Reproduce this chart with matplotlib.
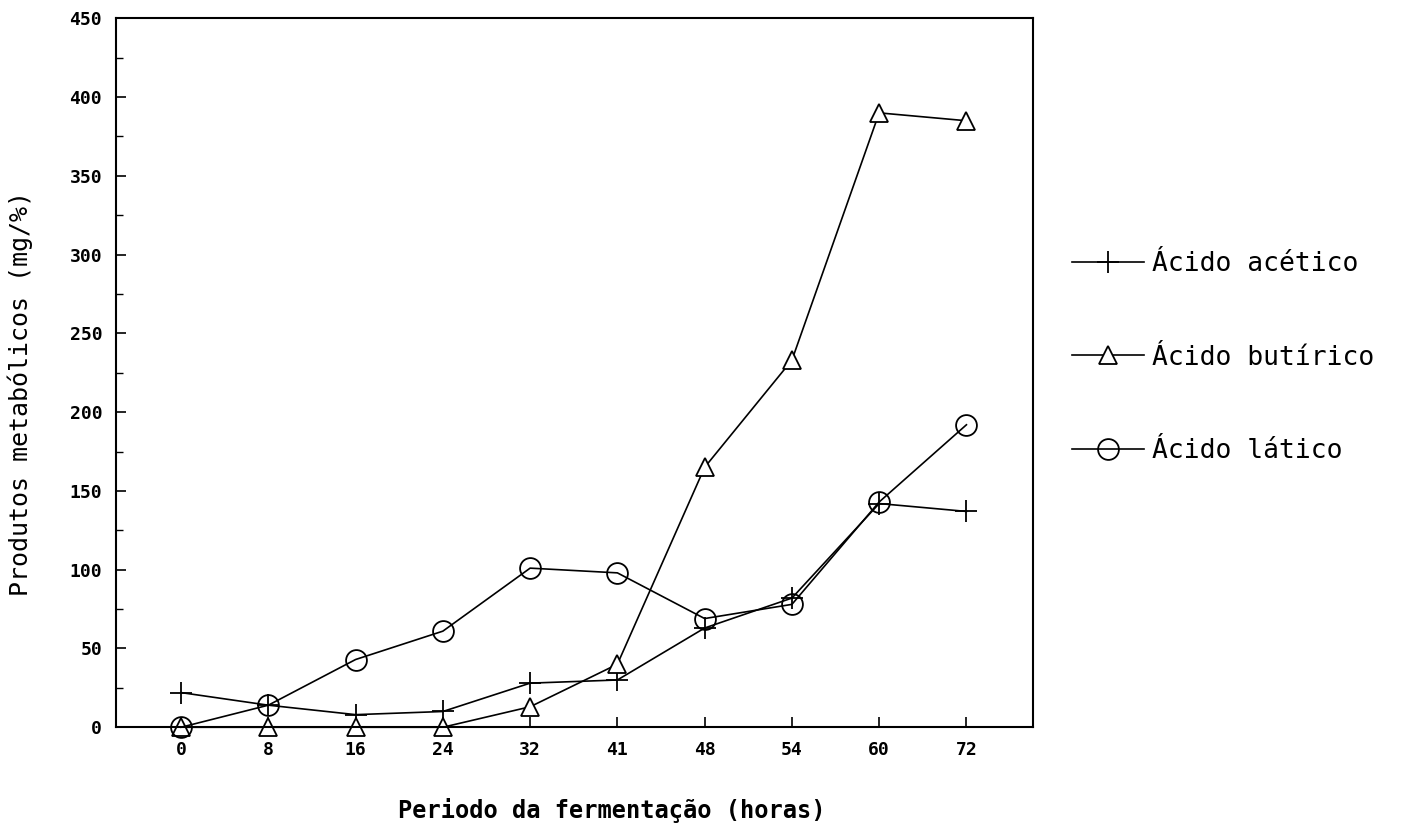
import matplotlib
matplotlib.use("Agg")
import matplotlib.pyplot as plt
from matplotlib.ticker import MultipleLocator

# Fermentation period (hours), drawn as evenly spaced categories
horas = ["0", "8", "16", "24", "32", "41", "48", "54", "60", "72"]

# Metabolic products (mg/%)
acetico = [22, 14, 8, 10, 28, 30, 63, 82, 142, 137]
butirico = [0, 0, 0, 0, 13, 40, 165, 233, 390, 385]
latico = [0, 14, 43, 61, 101, 98, 69, 78, 143, 192]

mono = ["DejaVu Sans Mono"]

fig = plt.figure(figsize=(14.19, 8.34), dpi=100)
ax = fig.add_axes([0.0818, 0.128, 0.646, 0.850])

x = list(range(len(horas)))

ax.plot(x, acetico, color="black", lw=1.2, marker="+", ms=16, mew=1.3,
        label="Ácido acético", clip_on=False)
ax.plot(x, butirico, color="black", lw=1.2, marker="^", ms=13, mfc="white",
        mec="black", mew=1.3, label="Ácido butírico", clip_on=False)
ax.plot(x, latico, color="black", lw=1.2, marker="o", ms=15, mfc="none",
        mec="black", mew=1.3, label="Ácido lático", clip_on=False)

ax.set_xlim(-0.745, 9.76)
ax.set_ylim(0, 450)
ax.set_xticks(x)
ax.set_xticklabels(horas)
ax.yaxis.set_major_locator(MultipleLocator(50))
ax.yaxis.set_minor_locator(MultipleLocator(25))
ax.tick_params(axis="both", which="major", direction="in", length=7, width=1.2,
               pad=10)
ax.tick_params(axis="y", which="minor", direction="in", length=5, width=1.0)
for lab in ax.get_xticklabels() + ax.get_yticklabels():
    lab.set_family(mono)
    lab.set_fontweight("bold")
    lab.set_fontsize(13)

for s in ax.spines.values():
    s.set_linewidth(1.5)

ax.set_xlabel("Periodo da fermentação (horas)", family=mono, fontsize=17,
              fontweight="bold")
ax.xaxis.set_label_coords(0.541, -0.0995)
ax.set_ylabel("Produtos metabólicos (mg/%)", family=mono, fontsize=18)
ax.yaxis.set_label_coords(-0.0905, 0.471)

leg = ax.legend(loc="upper left", bbox_to_anchor=(0.739, 0.7274),
                bbox_transform=fig.transFigure, frameon=False,
                prop={"family": mono, "size": 19}, handlelength=2.7,
                handletextpad=0.3, labelspacing=2.56)

fig.savefig("out.png", dpi=100)
